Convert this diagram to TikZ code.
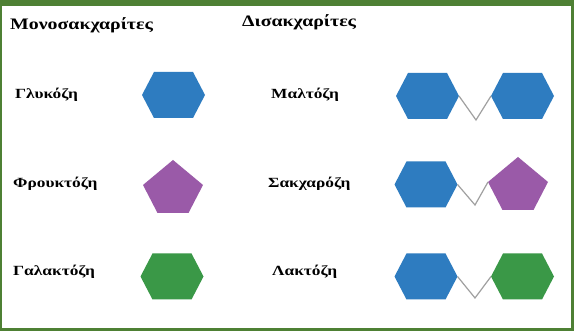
\documentclass[tikz,border=0pt]{standalone}
\usepackage{fontspec}
\setmainfont{Liberation Serif}[FakeStretch=1.24]
\definecolor{frame}{HTML}{4E8034}
\definecolor{glu}{HTML}{2E7CC0}
\definecolor{fru}{HTML}{9A5AA8}
\definecolor{gal}{HTML}{3A9847}
\definecolor{bond}{HTML}{A0A0A0}
\begin{document}
\begin{tikzpicture}[x=1pt,y=-1pt,
  head/.style={anchor=west,inner sep=0pt,font=\bfseries\fontsize{16}{19}\selectfont},
  sugar/.style={anchor=west,inner sep=0pt,font=\bfseries\fontsize{14}{17}\selectfont},
  bondline/.style={draw=bond,line width=1.2pt},
  hexa/.pic={
    \fill[#1] (-31.5,0) -- (-19.5,-23) -- (19.5,-23) -- (31.5,0)
      -- (19.5,23) -- (-19.5,23) -- cycle;
    \coordinate (-w) at (-31.5,0);
    \coordinate (-e) at (31.5,0);
  },
  penta/.pic={
    \fill[#1] (0,-28) -- (30,-3) -- (15.5,25) -- (-15.5,25) -- (-30,-3) -- cycle;
    \coordinate (-w) at (-30,-3);
    \coordinate (-e) at (30,-3);
  }]
% frame and background
\useasboundingbox (0,0) rectangle (574,331);
\fill[frame] (0,0) rectangle (574,331);
\fill[white] (2,6) rectangle (571,328);

% headings
\node[head] (mono) at (10,25) {Μονοσακχαρίτες};
\node[head] (di) at (242,22) {Δισακχαρίτες};

% monosaccharides
\node[sugar] (lglu) at (15,95) {Γλυκόζη};
\node[sugar] (lfru) at (13,184) {Φρουκτόζη};
\node[sugar] (lgal) at (13,272) {Γαλακτόζη};
\pic (glu) at (173.5,95) {hexa=glu};
\pic (fru) at (173,188) {penta=fru};
\pic (gal) at (172,276.5) {hexa=gal};

% disaccharides
\node[sugar] (lmal) at (271,95) {Μαλτόζη};
\node[sugar] (lsuc) at (268,184) {Σακχαρόζη};
\node[sugar] (llac) at (272,272) {Λακτόζη};

\coordinate (malb) at (476,120);
\coordinate (sucb) at (475,205);
\coordinate (lacb) at (475,298);

\pic (mala) at (427.5,96) {hexa=glu};
\pic (malc) at (522.5,96) {hexa=glu};
\pic (suca) at (426,184.5) {hexa=glu};
\pic (succ) at (518,185) {penta=fru};
\pic (laca) at (426,276.5) {hexa=glu};
\pic (lacc) at (522.5,276.5) {hexa=gal};

% glycosidic bonds
\draw[bondline] (mala-e) -- (malb) -- (malc-w);
\draw[bondline] (suca-e) -- (sucb) -- (succ-w);
\draw[bondline] (laca-e) -- (lacb) -- (lacc-w);
\end{tikzpicture}
\end{document}
